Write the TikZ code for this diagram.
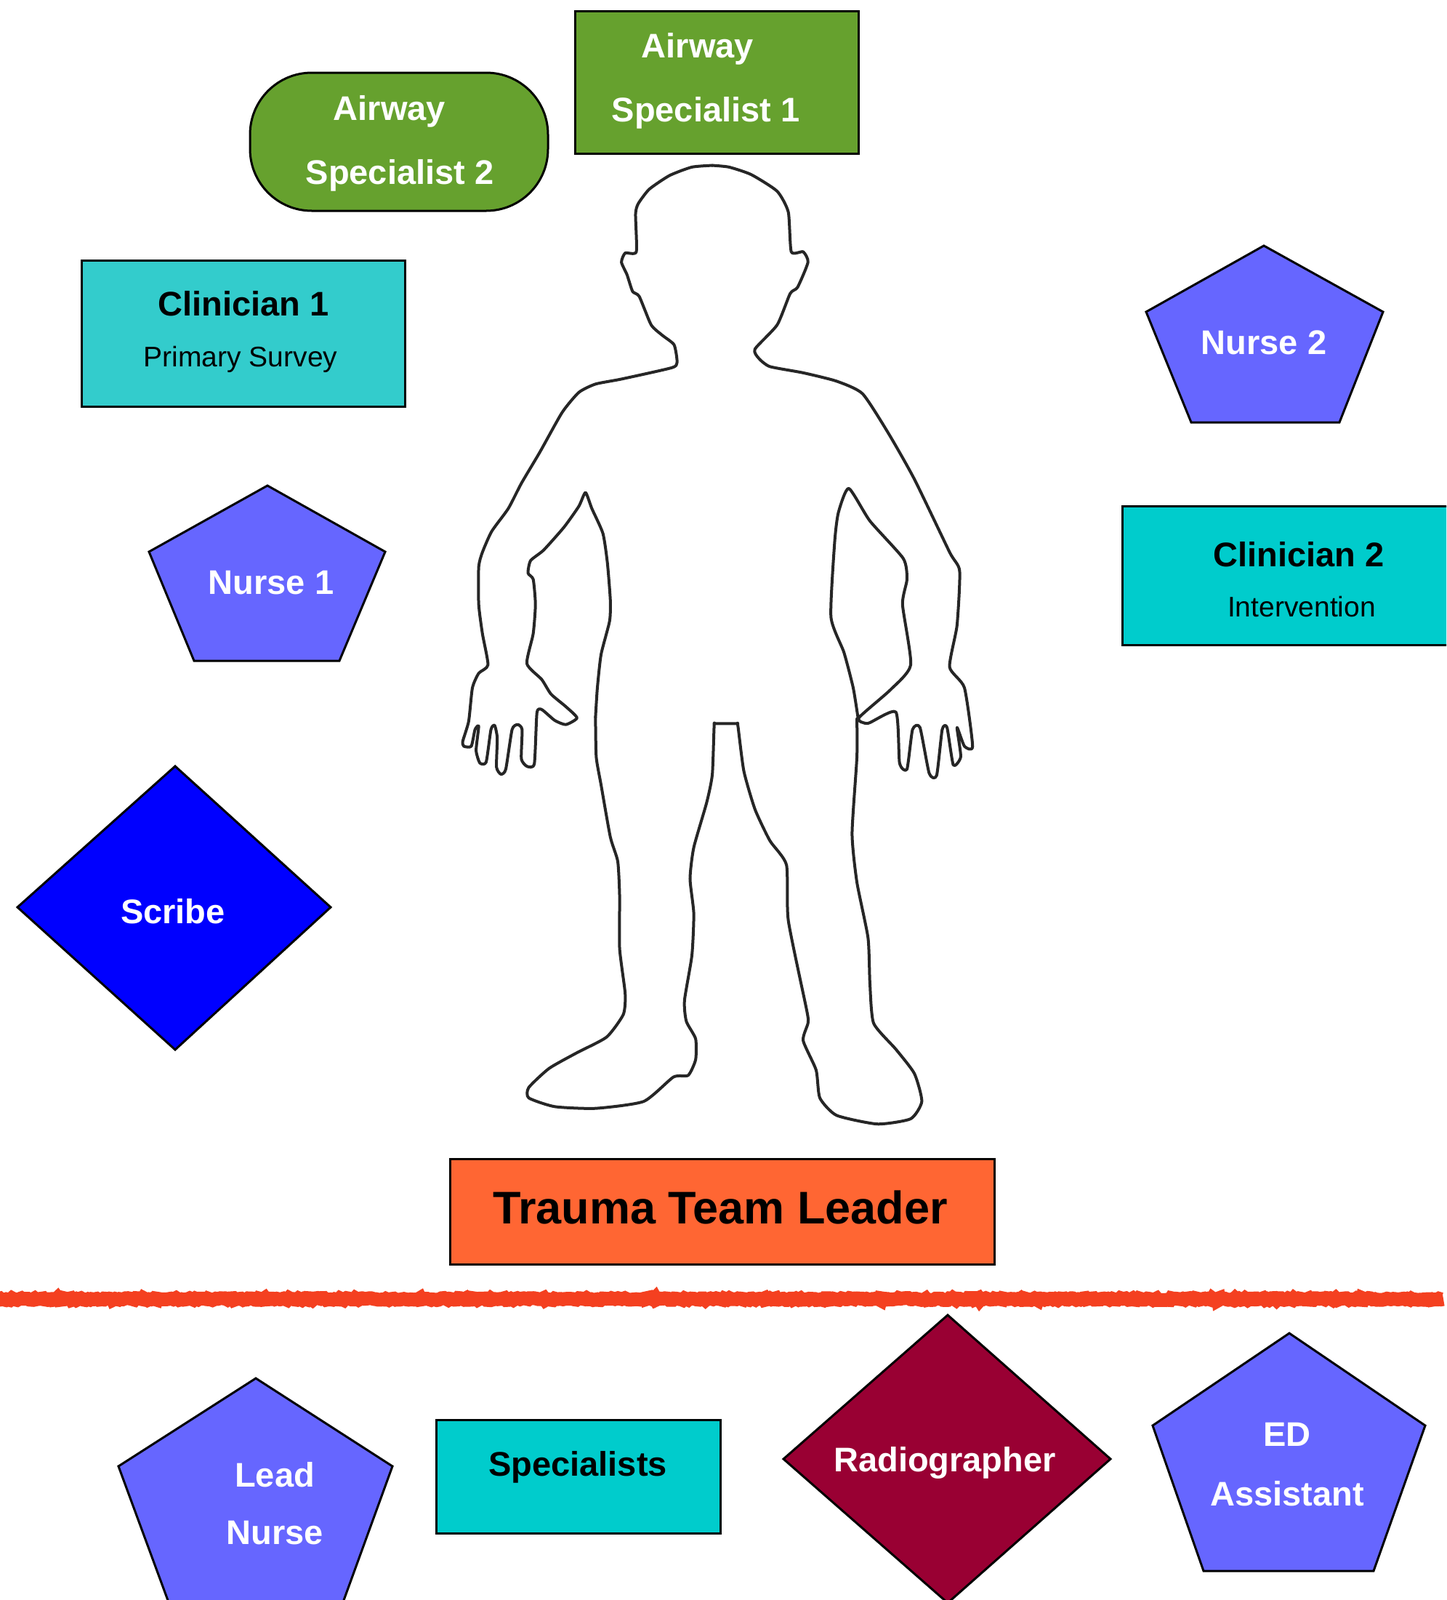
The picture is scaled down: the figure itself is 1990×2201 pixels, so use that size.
\documentclass[tikz,border=0pt]{standalone}
\usepackage{fontspec}
\setmainfont{Liberation Sans}
\usetikzlibrary{decorations.pathmorphing}
\definecolor{grn}{HTML}{66A12E}
\definecolor{teala}{HTML}{33CCCC}
\definecolor{tealb}{HTML}{00CCCC}
\definecolor{peri}{HTML}{6666FF}
\definecolor{blu}{HTML}{0000FF}
\definecolor{org}{HTML}{FF6633}
\definecolor{wine}{HTML}{990033}
\definecolor{redl}{HTML}{F44020}
\tikzset{
  box/.style={draw=black,line width=3pt,line join=miter},
  lab/.style={anchor=base,inner sep=0pt,font=\fontsize{47}{47}\selectfont\bfseries},
  wlab/.style={lab,text=white},
  sublab/.style={anchor=base,inner sep=0pt,font=\fontsize{39}{39}\selectfont},
  bigl/.style={anchor=base,inner sep=0pt,font=\fontsize{63}{63}\selectfont\bfseries},
  outline/.style={draw=black!85,line width=4pt,line join=round,line cap=round,smooth,tension=0.35},
  upper/.style={xshift=600pt,yshift=-200pt,x=0.5102pt,y=-0.574pt},
  lower/.style={xshift=600pt,yshift=-850pt,x=0.5102pt,y=-0.4785pt},
}
\begin{document}
\begin{tikzpicture}[x=1pt,y=-1pt]
\useasboundingbox (0,0) rectangle (1990,2201);
\clip (0,0) rectangle (1990,2201);
\fill[white] (0,0) rectangle (1990,2201);

% body outline
\begin{scope}[upper]
\draw[outline] plot coordinates {(745,48)(690,52)(630,72)(575,105)(545,140)(538,165)(540,255)(510,258)(500,280)(515,310)(530,350)(548,362)(580,430)(610,455)(642,478)(650,520)(635,533)(500,560)(430,572)(385,592)(340,640)(280,735)(230,810)(195,870)(150,925)(125,975)(115,1010)(115,1100)(125,1170)(140,1245)(115,1265)(98,1300)(88,1380)(72,1428)(75,1440)(95,1440)(105,1400)(115,1392)(108,1450)(118,1480)(135,1478)(148,1400)(158,1390)(165,1420)(163,1490)(175,1507)(188,1495)(205,1400)(220,1388)(232,1400)(230,1470)(245,1488)(265,1482)(272,1360)(285,1352)(320,1378)(350,1388)(380,1372)(350,1345)(310,1315)(285,1280)(245,1242)(262,1170)(268,1100)(262,1040)(248,1025)(255,995)(290,970)(345,915)(385,865)(403,832)(420,870)(450,930)(462,1000)(470,1090)(468,1140)(445,1220)(435,1300)(430,1370)};
\draw[outline] plot coordinates {(1138,1372)(1125,1300)(1100,1215)(1065,1130)(1075,950)(1085,880)(1113,822)(1170,900)(1260,990)(1270,1040)(1258,1100)(1280,1245)(1225,1305)(1140,1372)(1165,1385)(1240,1358)(1250,1480)(1270,1495)(1285,1400)(1305,1395)(1330,1505)(1350,1510)(1365,1400)(1378,1395)(1395,1485)(1415,1465)(1405,1395)(1425,1440)(1447,1440)(1425,1300)(1385,1250)(1405,1150)(1412,1020)(1385,975)(1290,800)(1220,690)(1150,595)(1080,565)(990,545)(900,530)(870,510)(860,488)(920,430)(955,355)(975,340)(1003,280)(990,255)(958,255)(950,160)(920,110)(850,70)(790,52)(745,48)};
\end{scope}
\begin{scope}[lower]
\draw[outline] plot coordinates {(430,285)(432,400)(445,480)(470,630)(490,700)(495,800)(495,950)(510,1080)(505,1140)(460,1205)(380,1250)(305,1295)(250,1350)(250,1380)(320,1405)(430,1410)(560,1390)(640,1320)(680,1315)(700,1270)(700,1210)(675,1160)(670,1100)(690,970)(695,850)(685,750)(695,660)(730,530)(745,450)(750,310)(754,304)(810,304)(814,310)(830,440)(860,550)(900,640)(945,710)(950,870)(1000,1130)(1003,1165)(990,1215)(1025,1300)(1035,1380)(1080,1430)(1190,1455)(1280,1440)(1310,1390)(1290,1310)(1240,1240)(1180,1165)(1170,1050)(1165,920)(1135,760)(1122,620)(1135,400)(1135,290)};
\end{scope}

% shapes
\draw[box,fill=grn] (791,15) rectangle (1181,211);
\draw[box,fill=grn,rounded corners=85pt] (344,100) rectangle (754,290);
\draw[box,fill=teala] (112,358) rectangle (557,559);
\draw[box,fill=peri] (1739,338)--(1903,429)--(1843,581)--(1639,581)--(1577,429)--cycle;
\draw[box,fill=tealb] (1544,696) rectangle (1996,887);
\draw[box,fill=peri] (368,668)--(530,759)--(467,909)--(267,909)--(205,759)--cycle;
\draw[box,fill=blu] (241,1054)--(455,1248)--(241,1444)--(24,1248)--cycle;
\draw[box,fill=org] (619,1594) rectangle (1368,1739);
\draw[redl,line width=19pt,decorate,decoration={random steps,segment length=3pt,amplitude=1.5pt}] (-5,1787) -- (1986,1787);
\draw[box,fill=peri] (352,1896)--(540,2017)--(468,2215)--(236,2215)--(163,2017)--cycle;
\draw[box,fill=tealb] (600,1953) rectangle (991,2109);
\draw[box,fill=wine] (1304,1809)--(1528,2007)--(1304,2205)--(1078,2007)--cycle;
\draw[box,fill=peri] (1774,1834)--(1961,1961)--(1890,2161)--(1656,2161)--(1586,1961)--cycle;

% labels
\node[wlab] (as1a) at (960,79) {Airway};
\node[wlab] (as1b) at (971,167) {Specialist 1};
\node[wlab] (as2a) at (536,165) {Airway};
\node[wlab] (as2b) at (550,253) {Specialist 2};
\node[lab] (c1a) at (335,434) {Clinician 1};
\node[sublab] (c1b) at (331,504) {Primary Survey};
\node[wlab] (n2) at (1739,487) {Nurse 2};
\node[lab] (c2a) at (1787,779) {Clinician 2};
\node[sublab] (c2b) at (1791,848) {Intervention};
\node[wlab] (n1) at (373,817) {Nurse 1};
\node[wlab] (sc) at (238,1270) {Scribe};
\node[bigl] (ttl) at (991,1683) {Trauma Team Leader};
\node[wlab] (ln1) at (378,2045) {Lead};
\node[wlab] (ln2) at (378,2124) {Nurse};
\node[lab] (sp) at (795,2030) {Specialists};
\node[wlab] (ra) at (1300,2024) {Radiographer};
\node[wlab] (ed1) at (1771,1989) {ED};
\node[wlab] (ed2) at (1771,2071) {Assistant};
\end{tikzpicture}
\end{document}
